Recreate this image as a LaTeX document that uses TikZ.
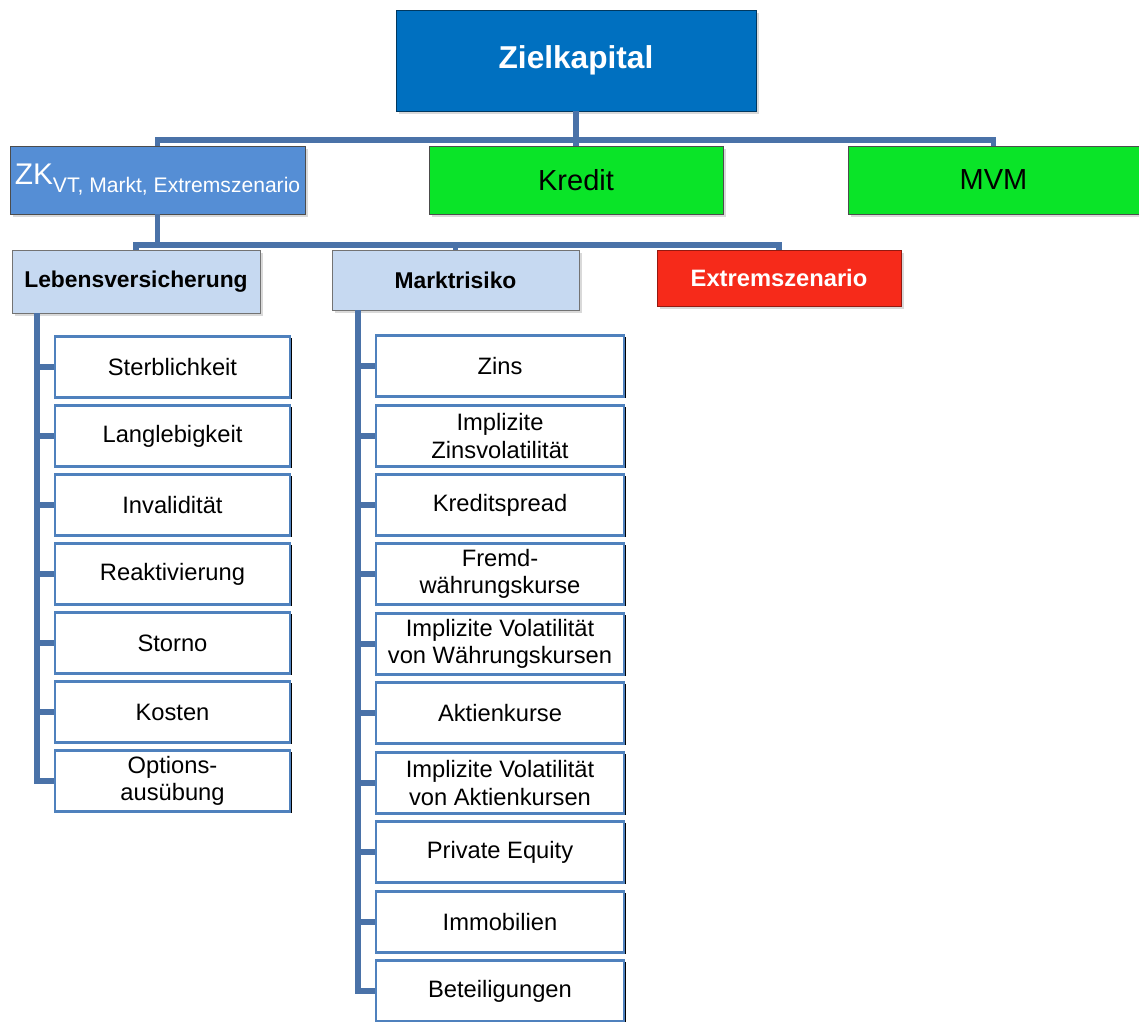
\documentclass[tikz,border=0pt]{standalone}
\usepackage{fontspec}
\setmainfont{Liberation Sans}
\usepackage{tikz}
\usetikzlibrary{shadows}

\definecolor{zielblue}{RGB}{0,112,192}
\definecolor{zkblue}{RGB}{85,142,213}
\definecolor{kgreen}{RGB}{10,228,40}
\definecolor{lightblue}{RGB}{198,217,241}
\definecolor{exred}{RGB}{246,42,26}
\definecolor{connblue}{RGB}{74,114,168}
\definecolor{childblue}{RGB}{79,129,189}

\tikzset{
  topbox/.style={draw=black!70,thin,inner sep=0pt,align=center,
    drop shadow={opacity=0.3,shadow xshift=1.5pt,shadow yshift=-1.5pt}},
  childbox/.style={draw=childblue,line width=1.3pt,fill=white,inner sep=0pt,align=center,
    minimum height=1.22cm,font=\fontsize{13.5}{15.5}\selectfont,
    drop shadow={opacity=1,fill=black,shadow xshift=0.9pt,shadow yshift=-0.9pt}},
  lvchild/.style={childbox,minimum width=4.70cm},
  mrchild/.style={childbox,minimum width=4.96cm},
  conn/.style={draw=connblue,line width=2.9pt}
}

\begin{document}
\begin{tikzpicture}[x=0.02cm,y=-0.02cm]
\useasboundingbox (0,0) rectangle (1139,1021);
% top level
\node[topbox,fill=zielblue,draw=zielblue!50!black,text=white,minimum width=7.2cm,minimum height=2.02cm,
  font=\fontsize{18}{20}\selectfont\bfseries] (ziel) at (576,60.5) {Zielkapital};
% second level
\node[topbox,fill=zkblue,text=white,minimum width=5.9cm,minimum height=1.36cm] (zk) at (157.5,180)
  {{\fontsize{17}{18}\selectfont ZK}\raisebox{-4.5pt}{\fontsize{12}{13}\selectfont VT, Markt, Extremszenario}};
\node[topbox,fill=kgreen,minimum width=5.88cm,minimum height=1.36cm,
  font=\fontsize{16.5}{18}\selectfont] (kredit) at (576,180) {Kredit};
\node[topbox,fill=kgreen,minimum width=5.82cm,minimum height=1.36cm,
  font=\fontsize{16.5}{18}\selectfont] (mvm) at (993.5,180) {MVM};
% third level
\node[topbox,fill=lightblue,draw=black!55,minimum width=4.96cm,minimum height=1.26cm,
  font=\fontsize{13}{15}\selectfont\bfseries] (leben) at (136,281.5) {Lebensversicherung};
\node[topbox,fill=lightblue,draw=black!55,minimum width=4.94cm,minimum height=1.2cm,
  font=\fontsize{13}{15}\selectfont\bfseries] (markt) at (455.5,280) {Marktrisiko};
\node[topbox,fill=exred,draw=exred!60!black,text=white,minimum width=4.88cm,minimum height=1.12cm,
  font=\fontsize{13.5}{15}\selectfont\bfseries] (extrem) at (779,278) {Extremszenario};
% Lebensversicherung risks
\node[lvchild] (lv1) at (172.5,367) {Sterblichkeit};
\node[lvchild] (lv2) at (172.5,436) {Langlebigkeit};
\node[lvchild] (lv3) at (172.5,505) {Invalidität};
\node[lvchild] (lv4) at (172.5,574) {Reaktivierung};
\node[lvchild] (lv5) at (172.5,643) {Storno};
\node[lvchild] (lv6) at (172.5,712) {Kosten};
\node[lvchild] (lv7) at (172.5,781) {Options-\\ausübung};
% Marktrisiko risks
\node[mrchild] (mr1) at (500,366) {Zins};
\node[mrchild] (mr2) at (500,436) {Implizite\\Zinsvolatilität};
\node[mrchild] (mr3) at (500,505) {Kreditspread};
\node[mrchild] (mr4) at (500,574) {Fremd-\\währungskurse};
\node[mrchild] (mr5) at (500,644) {Implizite Volatilität\\von Währungskursen};
\node[mrchild] (mr6) at (500,713) {Aktienkurse};
\node[mrchild] (mr7) at (500,783) {Implizite Volatilität\\von Aktienkursen};
\node[mrchild] (mr8) at (500,852) {Private Equity};
\node[mrchild] (mr9) at (500,922) {Immobilien};
\node[mrchild] (mr10) at (500,991) {Beteiligungen};
% bus coordinates
\coordinate (bus1) at (576,140);
\coordinate (bus2) at (457,245);
\coordinate (lvrail) at (37,313);
\coordinate (mrrail) at (358,310);
% first bus
\draw[conn] (ziel.south) -- (kredit.north);
\draw[conn] (zk.north) |- (bus1) -| (mvm.north);
% second bus
\draw[conn] (zk.south) -- (zk.south |- bus2);
\draw[conn] (leben.north) |- (bus2) -| (extrem.north);
\draw[conn] (markt.north) -- (markt.north |- bus2);
% Lebensversicherung rail
\draw[conn] (lvrail) |- (lv7.west);
\draw[conn] (lv1.west) -- (lv1.west -| lvrail);
\draw[conn] (lv2.west) -- (lv2.west -| lvrail);
\draw[conn] (lv3.west) -- (lv3.west -| lvrail);
\draw[conn] (lv4.west) -- (lv4.west -| lvrail);
\draw[conn] (lv5.west) -- (lv5.west -| lvrail);
\draw[conn] (lv6.west) -- (lv6.west -| lvrail);
% Marktrisiko rail
\draw[conn] (mrrail) |- (mr10.west);
\draw[conn] (mr1.west) -- (mr1.west -| mrrail);
\draw[conn] (mr2.west) -- (mr2.west -| mrrail);
\draw[conn] (mr3.west) -- (mr3.west -| mrrail);
\draw[conn] (mr4.west) -- (mr4.west -| mrrail);
\draw[conn] (mr5.west) -- (mr5.west -| mrrail);
\draw[conn] (mr6.west) -- (mr6.west -| mrrail);
\draw[conn] (mr7.west) -- (mr7.west -| mrrail);
\draw[conn] (mr8.west) -- (mr8.west -| mrrail);
\draw[conn] (mr9.west) -- (mr9.west -| mrrail);
\end{tikzpicture}
\end{document}
